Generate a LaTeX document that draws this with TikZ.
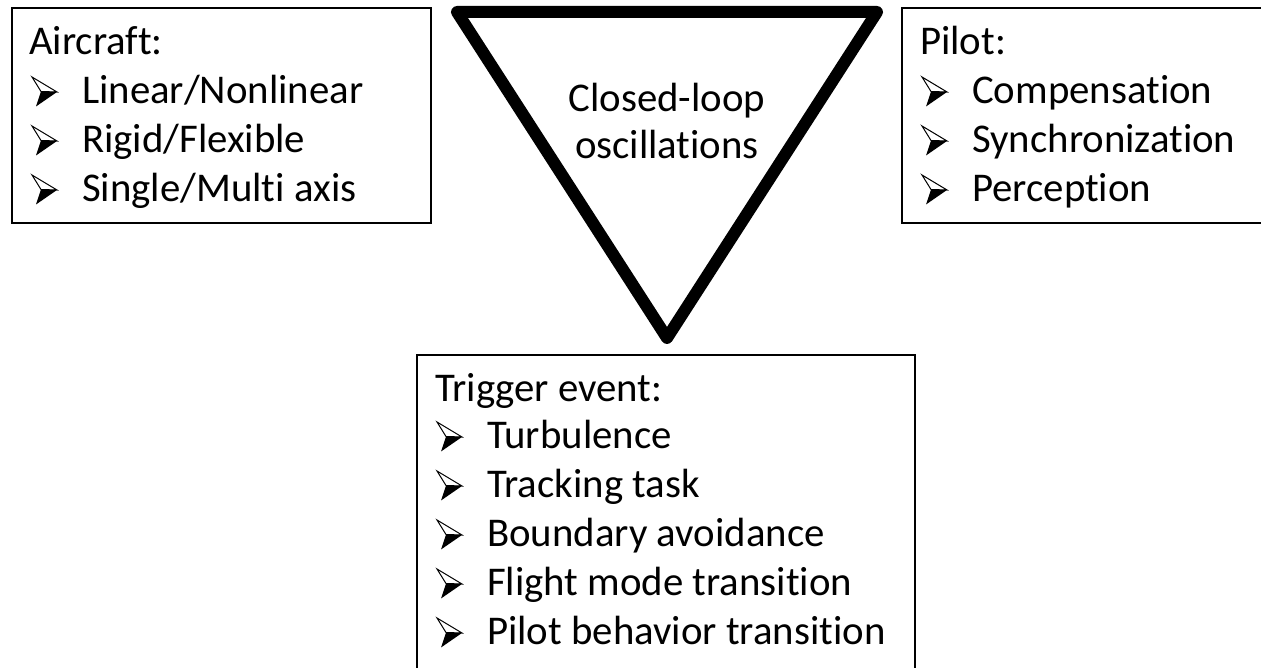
\documentclass[tikz,border=0pt]{standalone}
\usepackage{fontspec}
\setmainfont{Carlito}[Ligatures=NoCommon]
\begin{document}
\begin{tikzpicture}[x=1pt,y=1pt,
  box/.style={draw=black, line width=1.3pt},
  txt/.style={inner sep=0pt, anchor=base west, font=\fontsize{40.8}{49}\selectfont},
  ctxt/.style={inner sep=0pt, anchor=base, font=\fontsize{40.8}{49}\selectfont},
  tri/.style={draw=black, line width=12pt, line join=round},
  arrbullet/.pic={
    \fill[black] (9,0.5) -- (25,0) -- (4,-14.5) -- cycle;
    \draw[line width=1pt, line join=miter] (0,15) -- (25,0) -- (9,0.5) -- cycle;
  }]
\useasboundingbox (0,0) rectangle (1261,668);
\clip (0,0) rectangle (1261,668);
% boxes
\draw[box] (12,660) rectangle (431,445);
\draw[box] (902,660) rectangle (1280,445);
\draw[box] (417,313) rectangle (915,-20);
% triangle
\coordinate (tl) at (457,656);
\coordinate (tr) at (877,656);
\coordinate (tb) at (667,330);
\draw[tri] (tl) -- (tr) -- (tb) -- cycle;
\node[ctxt] (c1) at (667,556) {Closed-loop};
\node[ctxt] (c2) at (667,509) {oscillations};
% aircraft
\node[txt] (a0) at (29,613) {Aircraft:};
\node[txt] (a1) at (82,564) {Linear/Nonlinear};
\node[txt] (a2) at (82,515) {Rigid/Flexible};
\node[txt] (a3) at (82,466) {Single/Multi axis};
\pic at (32,576) {arrbullet};
\pic at (32,527) {arrbullet};
\pic at (32,478) {arrbullet};
% pilot
\node[txt] (p0) at (920,613) {Pilot:};
\node[txt] (p1) at (972,564) {Compensation};
\node[txt] (p2) at (972,515) {Synchronization};
\node[txt] (p3) at (972,466) {Perception};
\pic at (922,576) {arrbullet};
\pic at (922,527) {arrbullet};
\pic at (922,478) {arrbullet};
% trigger
\node[txt] (t0) at (435,266) {Trigger event:};
\node[txt] (t1) at (487,219) {Turbulence};
\node[txt] (t2) at (487,170) {Tracking task};
\node[txt] (t3) at (487,121) {Boundary avoidance};
\node[txt] (t4) at (487,72) {Flight mode transition};
\node[txt] (t5) at (487,23) {Pilot behavior transition};
\pic at (437,231) {arrbullet};
\pic at (437,182) {arrbullet};
\pic at (437,133) {arrbullet};
\pic at (437,84) {arrbullet};
\pic at (437,35) {arrbullet};
\end{tikzpicture}
\end{document}
